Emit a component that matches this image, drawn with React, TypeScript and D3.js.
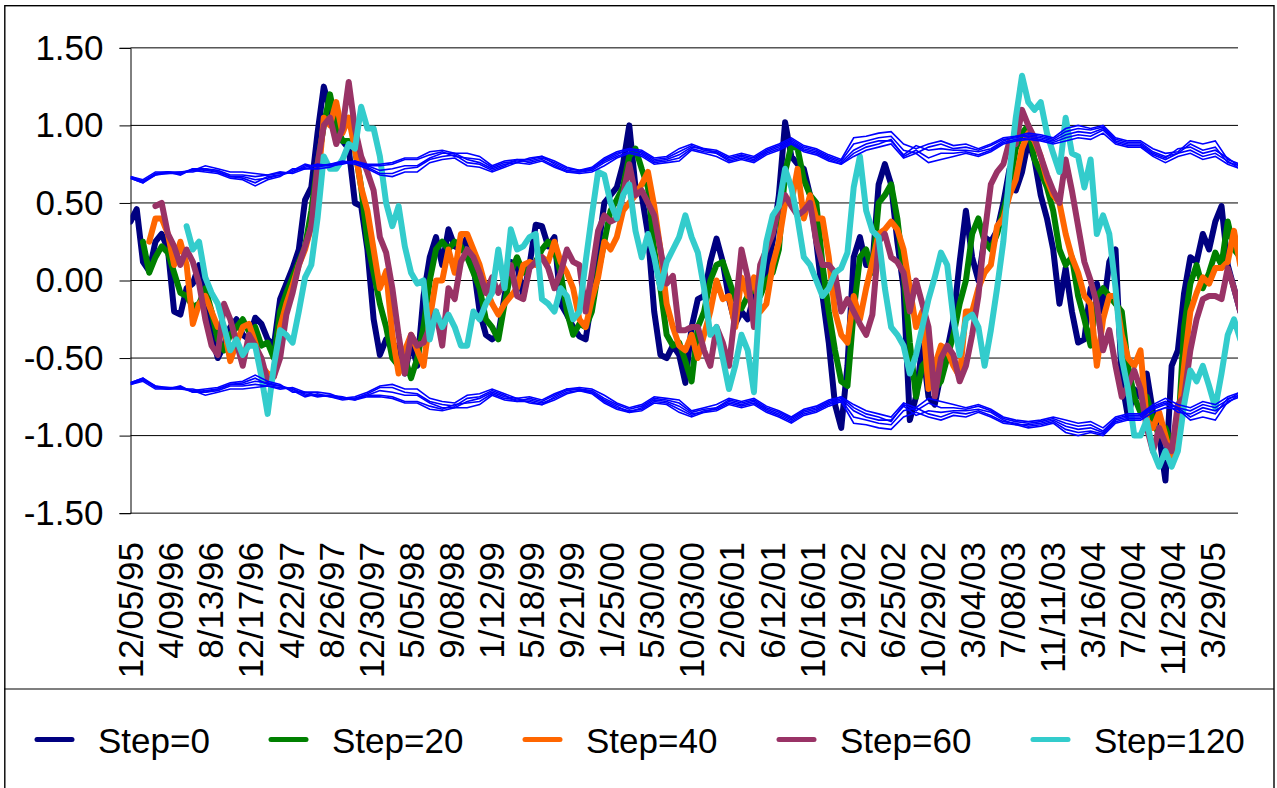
import { useEffect, useRef } from "react";
import * as d3 from "d3";

// samples are 14 trading days apart, band samples 28 days apart
const sampleStep = 14;
const bandStep = 28;
const lastDay = 2487;

const dateLabels = [
  "12/05/95", "4/09/96", "8/13/96", "12/17/96", "4/22/97", "8/26/97", "12/30/97",
  "5/05/98", "9/08/98", "1/12/99", "5/18/99", "9/21/99", "1/25/00", "5/30/00",
  "10/03/00", "2/06/01", "6/12/01", "10/16/01", "2/19/02", "6/25/02", "10/29/02",
  "3/04/03", "7/08/03", "11/11/03", "3/16/04", "7/20/04", "11/23/04", "3/29/05",
];
const labelEvery = 90;
const yTicks = [-1.5, -1, -0.5, 0, 0.5, 1, 1.5];

const step0 = [
  .38, .46, .12, .06, .25, .3, .2, -.2, -.22, -.05,
  -.02, .1, -.08, -.35, -.5, -.42, -.3, -.25, -.35, -.38,
  -.24, -.28, -.38, -.42, -.12, -.02, .08, .2, .52, .6,
  .95, 1.25, 1.1, .98, .9, .85, .5, .48, .2, -.25,
  -.48, -.38, -.4, -.45, -.6, -.4, -.55, -.1, .15, .28,
  .1, .33, .22, .2, .28, .1, -.2, -.35, -.38, -.35,
  -.1, .12, .1, -.1, .1, .36, .35, .22, .28, -.15,
  -.22, -.3, -.36, -.38, -.12, .2, .5, .55, .6, .75,
  1, .6, .55, .3, -.2, -.48, -.5, -.42, -.48, -.66,
  -.3, -.12, -.1, .12, .27, .12, -.12, -.28, -.2, -.25,
  -.1, 0, .05, .25, .55, 1.02, .8, .75, .72, .55,
  .25, -.1, -.4, -.8, -.95, -.55, .15, .28, .1, .1,
  .62, .75, .62, .25, -.05, -.9, -.75, -.42, -.75, -.8,
  -.6, -.45, -.25, .12, .45, .15, 0, .28, .25, .32,
  .5, .72, .58, .7, .9, .78, .55, .4, .2, -.15,
  .08, -.2, -.4, -.38, -.05, -.02, -.2, .12, .2, -.65,
  -.88, -.7, -.75, -.6, -.85, -1, -1.29, -.55, -.45, -.08,
  .15, .12, .3, .2, .38, .48, .1, -.05, -.2,
];

const step20 = [
  null, null, .25, .05, .15, .22, .18, .05, -.08, -.1,
  -.17, -.15, -.05, -.2, -.38, -.45, -.35, -.3, -.25, -.33,
  -.3, -.42, -.4, -.5, -.2, -.08, .02, .12, .22, .45,
  .75, 1, 1.2, 1, .9, .9, .85, .6, .25, .05,
  -.15, -.3, -.5, -.55, -.5, -.63, -.5, -.3, 0, .2,
  .25, .2, .25, .22, .15, .05, -.05, -.25, -.3, -.38,
  -.15, .05, .15, .05, .1, .12, .2, .25, .2, .05,
  -.2, -.35, -.28, -.3, -.2, .05, .25, .45, .52, .6,
  .8, .85, .72, .6, .2, -.05, -.35, -.42, -.4, -.52,
  -.65, -.3, -.2, 0, .1, .12, 0, -.12, -.18, -.1,
  -.05, -.1, 0, .05, .2, .7, .87, .85, .65, .55,
  .5, .1, -.2, -.45, -.65, -.68, -.2, .15, .2, .05,
  .5, .55, .62, .4, .05, -.4, -.75, -.55, -.5, -.7,
  -.65, -.5, -.35, -.15, 0, .3, .4, .25, .2, .3,
  .45, .6, .85, .95, 1, .78, .7, .6, .45, .2,
  .1, .15, -.1, -.25, -.42, -.1, -.05, -.1, -.15, -.2,
  -.55, -.75, -.85, -.75, -.9, -1, -.95, -1.05, -1, -.3,
  -.02, .1, -.05, .05, .18, .1, .38, .2, .15,
];

const step40 = [
  null, null, null, .25, .4, .4, .3, .1, .25, .1,
  -.28, -.15, -.1, -.2, -.3, -.3, -.52, -.4, -.3, -.28,
  -.4, -.55, -.6, -.62, -.3, -.15, -.03, .1, .2, .35,
  .6, 1.05, 1, 1.15, .95, 1.05, .85, .6, .45, .2,
  -.05, .06, -.35, -.6, -.45, -.35, -.45, -.55, -.25, 0,
  0, .2, .05, .3, .3, .2, .1, -.05, -.15, -.22,
  -.15, -.1, -.05, .1, .12, .1, .15, .12, .25, .12,
  .05, -.05, -.25, -.3, -.12, .02, .25, .2, .28, .45,
  .5, .55, .62, .7, .48, .2, -.15, -.3, -.42, -.45,
  -.35, -.5, -.35, -.2, 0, -.12, -.1, -.3, .02, -.1,
  .02, -.2, -.15, .1, .25, .5, .5, .72, .4, .55,
  .4, .4, .15, -.2, -.35, -.4, -.1, -.25, -.05, .12,
  .3, .33, .38, .33, .2, -.05, -.3, -.2, -.7, -.55,
  -.42, -.45, -.55, -.62, -.2, -.2, -.05, .05, .1, .35,
  .4, .55, .65, .85, .95, .9, .8, .65, .55, .5,
  .3, .15, .05, -.1, -.15, -.55, -.25, -.1, -.1, -.35,
  -.5, -.55, -.45, -.9, -.95, -.85, -1, -1.15, -.95, -.55,
  -.2, -.08, .02, -.02, .08, .08, .12, .32, .1,
];

const step60 = [
  null, null, null, null, .48, .5, .3, .22, .1, .2,
  .12, -.02, -.25, -.42, -.48, -.15, -.25, -.4, -.55, -.35,
  -.42, -.5, -.65, -.62, -.5, -.22, -.08, .1, .22, .35,
  .75, 1, 1.05, .88, .98, 1.28, .98, .8, .7, .58,
  .28, .18, -.05, -.35, -.6, -.35, -.42, -.4, -.3, -.2,
  -.42, -.05, -.12, .12, .2, .15, .05, -.08, .02, -.08,
  0, .1, -.1, -.12, .08, .12, .15, .08, -.05, .05,
  .2, .12, .1, -.2, .05, .32, .42, .38, .4, .55,
  .75, .55, .58, .5, .42, .2, -.02, .03, -.32, -.32,
  -.3, -.3, -.45, -.55, -.3, -.4, -.55, -.2, .2, .02,
  -.3, .1, .2, .3, .48, .55, .48, .42, .45, .5,
  .25, .1, .1, .05, -.2, -.12, -.2, -.28, -.35, -.22,
  .25, .3, .15, .12, .05, -.2, 0, -.15, -.3, -.75,
  -.5, -.42, -.48, -.65, -.55, -.35, -.1, .3, .62, .7,
  .75, .9, .88, 1.1, 1, .92, .8, .68, .58, .5,
  .78, .58, .35, .12, 0, -.15, -.45, -.32, -.55, -.75,
  -.68, -.58, -.7, -.95, -1.1, -.95, -1.05, -1.1, -.8, -.75,
  -.45, -.25, -.12, -.1, -.1, -.12, .08, -.05, -.2,
];

const step120 = [
  null, null, null, null, null, null, null, null, null, .35,
  .2, .25, .02, -.08, -.15, -.3, -.45, -.38, -.48, -.42,
  -.42, -.62, -.86, -.55, -.32, -.35, -.4, -.2, .02, .1,
  .4, .8, .72, .72, .78, .88, .85, 1.12, .98, .98,
  .8, .5, .35, .48, .22, .05, -.02, 0, -.38, -.2,
  -.3, -.22, -.3, -.42, -.42, -.2, -.25, -.15, -.08, .2,
  -.05, .33, .2, .22, .28, .3, -.12, -.15, -.2, -.05,
  -.1, -.25, -.2, .12, .42, .7, .68, .5, .4, .55,
  .62, .32, .15, .3, .15, -.05, .12, .2, .28, .42,
  .28, .18, -.05, -.35, -.3, -.5, -.7, -.55, -.35, -.45,
  -.72, -.05, .25, .42, .48, .72, .6, .4, .15, .1,
  0, -.1, -.05, .05, .08, .18, .6, .8, .45, .32,
  .28, -.05, -.3, -.35, -.42, -.6, -.48, -.3, -.12, .02,
  .18, .1, -.25, -.48, -.25, -.22, -.3, -.55, -.32, -.05,
  .25, .7, 1.05, 1.32, 1.15, 1.1, 1.15, .95, .82, .7,
  1.05, .82, .8, .6, .78, .3, .42, .3, -.05, -.5,
  -.7, -1, -1, -.9, -1.1, -1.2, -1.1, -1.2, -1.1, -.8,
  -.58, -.65, -.55, -.68, -.82, -.6, -.35, -.25, -.38,
];

// upper limits of the band, the lower limits are the same values below zero
const band0 = [
  .67, .65, .70, .70, .70, .71, .74, .72, .70, .70, .69, .68, .70, .69, .72, .74, .75, .76, .77, .75,
  .75, .76, .79, .79, .83, .84, .82, .82, .80, .74, .77, .78, .78, .80, .77, .73, .71, .73, .79, .83,
  .85, .84, .79, .80, .85, .88, .85, .84, .80, .82, .80, .85, .88, .92, .87, .85, .81, .78, .92, .93,
  .95, .96, .88, .85, .88, .90, .87, .88, .85, .88, .92, .93, .95, .94, .92, .98, 1.0, .98, 1.0, .92,
  .90, .90, .85, .82, .83, .90, .88, .90, .78, .75,
];
const band1 = [
  .67, .64, .69, .70, .69, .72, .72, .71, .68, .68, .67, .68, .69, .70, .73, .75, .74, .76, .76, .74,
  .74, .75, .78, .78, .81, .83, .80, .79, .78, .73, .76, .77, .77, .79, .76, .72, .71, .72, .78, .82,
  .84, .83, .78, .79, .83, .87, .84, .83, .79, .81, .79, .84, .87, .91, .86, .84, .80, .77, .88, .90,
  .92, .93, .84, .82, .86, .88, .85, .86, .84, .87, .91, .92, .94, .93, .91, .96, .98, .97, .99, .91,
  .89, .89, .83, .80, .82, .88, .84, .86, .76, .74,
];
const band2 = [
  .66, .63, .69, .69, .70, .70, .72, .70, .67, .66, .63, .67, .68, .70, .74, .74, .74, .75, .77, .74,
  .71, .72, .74, .74, .79, .82, .82, .78, .76, .72, .75, .76, .79, .80, .75, .71, .70, .72, .77, .81,
  .85, .82, .77, .78, .81, .86, .85, .82, .78, .80, .78, .83, .86, .90, .85, .83, .79, .76, .84, .88,
  .90, .90, .81, .87, .84, .85, .84, .84, .83, .85, .90, .93, .93, .92, .90, .94, .96, .95, .98, .90,
  .88, .88, .82, .79, .85, .86, .82, .84, .79, .73,
];
const band3 = [
  .66, .64, .68, .70, .68, .72, .71, .70, .67, .67, .65, .66, .68, .71, .75, .73, .75, .77, .76, .73,
  .69, .69, .72, .73, .78, .80, .81, .76, .75, .71, .74, .78, .76, .78, .74, .70, .70, .71, .76, .80,
  .83, .81, .76, .77, .79, .85, .83, .82, .77, .79, .77, .82, .85, .89, .84, .82, .78, .75, .82, .86,
  .88, .91, .80, .84, .79, .82, .82, .83, .81, .84, .89, .91, .92, .91, .89, .92, .94, .93, .97, .89,
  .87, .87, .81, .78, .82, .84, .80, .82, .77, .72,
];
const band4 = [
  .66, .63, .68, .69, .69, .71, .70, .69, .66, .65, .61, .65, .67, .72, .72, .72, .73, .76, .75, .72,
  .68, .67, .70, .70, .76, .78, .79, .74, .73, .70, .73, .76, .75, .77, .73, .70, .69, .70, .74, .79,
  .82, .80, .75, .76, .77, .84, .82, .80, .76, .78, .76, .81, .84, .88, .83, .81, .77, .75, .80, .84,
  .86, .88, .79, .82, .76, .78, .80, .82, .80, .83, .88, .90, .91, .90, .88, .90, .92, .91, .95, .88,
  .86, .86, .80, .76, .80, .82, .78, .80, .75, .72,
];

const seriesNames = ["Step=0", "Step=20", "Step=40", "Step=60", "Step=120"];
const seriesValues = [step0, step20, step40, step60, step120];
const seriesColors = ["#000080", "#008000", "#FF6600", "#993366", "#33CCCC"];
const bands = [band0, band1, band2, band3, band4];

export default function App() {
  const svgRef = useRef<SVGSVGElement | null>(null);

  useEffect(() => {
    const width = 1277;
    const height = 788;
    const plotLeft = 130.5;
    const plotRight = 1238;
    const fontFamily = "'Liberation Sans', Arial, sans-serif";
    const fontSize = 35;

    const svg = d3.select(svgRef.current).attr("width", width).attr("height", height);
    svg.selectAll("*").remove();

    const x = d3.scaleLinear().domain([0, lastDay]).range([plotLeft, plotRight]);
    const y = d3.scaleLinear().domain([-1.5, 1.5]).range([513.15, 47.85]);

    // chart frame and the rule above the legend
    svg.append("rect").attr("x", 4.8).attr("y", 5.7).attr("width", 1269.2).attr("height", 790)
      .attr("fill", "white").attr("stroke", "black").attr("stroke-width", 1.4);
    svg.append("line").attr("x1", 4).attr("x2", 1274).attr("y1", 689).attr("y2", 689)
      .attr("stroke", "black").attr("stroke-width", 1.2);

    svg.append("defs").append("clipPath").attr("id", "plot-clip")
      .append("rect").attr("x", plotLeft).attr("y", 0)
      .attr("width", plotRight - plotLeft).attr("height", height);

    // gridlines
    svg.append("g").selectAll("line").data(yTicks).join("line")
      .attr("x1", plotLeft).attr("x2", plotRight)
      .attr("y1", d => y(d)).attr("y2", d => y(d))
      .attr("stroke", "black").attr("stroke-width", 1);

    const yAxis = svg.append("g")
      .attr("transform", `translate(${plotLeft},0)`)
      .call(d3.axisLeft(y).tickValues(yTicks).tickSize(11).tickPadding(16)
        .tickFormat(d => (d as number).toFixed(2)));
    yAxis.selectAll("text").style("font-size", `${fontSize}px`).style("font-family", fontFamily).attr("fill", "black");
    yAxis.selectAll("line").attr("stroke", "black");
    yAxis.select(".domain").attr("stroke", "black").attr("stroke-width", 1);

    const xAxis = svg.append("g")
      .attr("transform", "translate(0,513)")
      .call(d3.axisBottom(x)
        .tickValues(dateLabels.map((_, i) => i * labelEvery))
        .tickSize(0)
        .tickFormat((_, i) => dateLabels[i]));
    xAxis.select(".domain").remove();
    xAxis.selectAll("text")
      .attr("transform", "rotate(-90)")
      .attr("text-anchor", "end")
      .attr("x", -29)
      .attr("y", 0)
      .attr("dy", "0.35em")
      .style("font-size", `${fontSize}px`)
      .style("font-family", fontFamily)
      .attr("fill", "black");

    const plot = svg.append("g").attr("clip-path", "url(#plot-clip)");

    const seriesLine = d3.line<number | null>()
      .defined(d => d != null)
      .x((_, i) => x(i * sampleStep))
      .y(d => y(d as number));

    seriesValues.forEach((values, i) => {
      plot.append("path")
        .datum(values)
        .attr("d", seriesLine)
        .attr("fill", "none")
        .attr("stroke", seriesColors[i])
        .attr("stroke-width", 6)
        .attr("stroke-linejoin", "round")
        .attr("stroke-linecap", "round");
    });

    const bandLine = d3.line<number>()
      .x((_, i) => x(i * bandStep))
      .y(d => y(d));

    bands.forEach(values => {
      [1, -1].forEach(sign => {
        plot.append("path")
          .datum(values.map(v => v * sign))
          .attr("d", bandLine)
          .attr("fill", "none")
          .attr("stroke", "#0000FF")
          .attr("stroke-width", 1.6);
      });
    });

    // Legend
    const legendX = [37, 271, 525, 779, 1033];
    seriesNames.forEach((name, i) => {
      const item = svg.append("g").attr("transform", "translate(" + legendX[i] + ",739.5)");
      item.append("line").attr("x1", 0).attr("x2", 35).attr("stroke", seriesColors[i])
        .attr("stroke-width", 5).attr("stroke-linecap", "round");
      item.append("text").attr("x", 61).attr("y", 13)
        .style("font-size", `${fontSize}px`).style("font-family", fontFamily)
        .attr("fill", "black").text(name);
    });
  }, []);

  return <svg ref={svgRef} style={{ position: "absolute", left: 0, top: 0 }}></svg>;
}
